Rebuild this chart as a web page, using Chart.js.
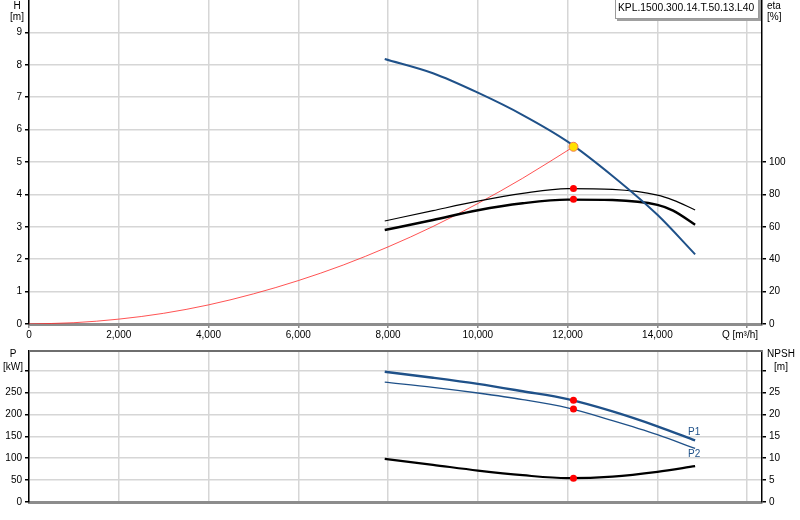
<!DOCTYPE html>
<html>
<head>
<meta charset="utf-8">
<script src="https://cdn.jsdelivr.net/npm/chart.js@4"></script>
<style>
  html, body { margin: 0; padding: 0; background: #fff; }
  #wrap { position: relative; width: 800px; height: 520px; }
  canvas { position: absolute; left: 0; }
  #top { top: 0; }
  #bottom { top: 345px; }
</style>
</head>
<body>
<div id="wrap">
  <canvas id="top" width="800" height="345"></canvas>
  <canvas id="bottom" width="800" height="175"></canvas>
</div>
<script>
// values
const qTicks = [0, 2000, 4000, 6000, 8000, 10000, 12000, 14000, 16000];
const hTicks = [0, 1, 2, 3, 4, 5, 6, 7, 8, 9];
const etaTicks = [0, 20, 40, 60, 80, 100];
const pTicks = [0, 50, 100, 150, 200, 250, 300];
const npshTicks = [0, 5, 10, 15, 20, 25, 30];

const qHead = [7925, 9000, 10000, 11000, 12000, 13000, 14000, 14840];
const head = [8.18, 7.74, 7.14, 6.45, 5.63, 4.57, 3.37, 2.15];

const qSys = [0, 1000, 2000, 3000, 4000, 5000, 6000, 7000, 8000, 9000, 10000, 11000, 12130];
const sysHead = [0, 0.04, 0.15, 0.33, 0.59, 0.93, 1.34, 1.82, 2.38, 3.01, 3.72, 4.5, 5.47];

const qEta = [7925, 9000, 10000, 11000, 12000, 13000, 14000, 14350, 14840];
const etaThin = [63.6, 70, 75.8, 80.6, 83.6, 83.1, 79.6, 76.5, 70.4];
const etaThick = [58, 64.2, 70.2, 74.5, 76.8, 76.5, 73.5, 70, 61.3];

const qLow = [7925, 9000, 10000, 11000, 12000, 13000, 14000, 14840];
const p1 = [297.5, 284, 270, 253, 235, 207, 173, 140.6];
const p2 = [273.7, 262, 249, 234, 215, 186, 154, 122.3];
const npsh = [9.86, 8.49, 7.18, 6.12, 5.45, 5.8, 6.88, 8.19];

const qDuty = 12130;
const hDuty = 5.47;
const etaDuty = [83.7, 77];
const pDuty = [232.3, 212.6];
const npshDuty = 5.43;

const title = 'KPL.1500.300.14.T.50.13.L40';

const BLUE = '#1f5189';
const GRID = '#d6d6d6';
const FONT = { family: 'Liberation Sans, Arial, sans-serif', size: 10 };

const pts = (xs, ys) => xs.map((x, i) => ({ x: x, y: ys[i] }));

function xScale(showLabels) {
  return {
    type: 'linear', min: 0, max: 16330,
    afterBuildTicks: s => { s.ticks = qTicks.map(v => ({ value: v })); },
    ticks: {
      display: showLabels, autoSkip: false, maxRotation: 0, padding: 1,
      color: '#000', font: FONT,
      callback: v => v === 16000 ? '' : v.toLocaleString('en-US')
    },
    grid: { color: GRID, lineWidth: 1.5, drawTicks: showLabels, tickColor: '#888', tickLength: 4 },
    border: { color: '#8c8c8c', width: 3 },
    afterFit: s => { s.height = showLabels ? 21 : 18; s.paddingLeft = 0; s.paddingRight = 0; }
  };
}

function yScale(pos, min, max, tickList, hideVal, onChart, width) {
  return {
    type: 'linear', position: pos, min: min, max: max,
    afterBuildTicks: s => { s.ticks = tickList.map(v => ({ value: v })); },
    ticks: {
      autoSkip: false, padding: 3, color: '#000', font: FONT,
      callback: v => v === hideVal ? '' : v
    },
    grid: { color: GRID, lineWidth: 1.5, drawOnChartArea: onChart, tickColor: '#000', tickLength: 4 },
    border: { color: '#000', width: 1.5 },
    afterFit: s => { s.width = width; s.paddingTop = 0; s.paddingBottom = 0; }
  };
}

function text(ctx, str, x, y, align, color, size) {
  ctx.save();
  ctx.font = (size || 10) + 'px Liberation Sans, Arial, sans-serif';
  ctx.fillStyle = color || '#000';
  ctx.textAlign = align;
  ctx.textBaseline = 'middle';
  ctx.fillText(str, x, y);
  ctx.restore();
}

const topLabels = {
  id: 'topLabels',
  afterDraw(chart) {
    const ctx = chart.ctx;
    text(ctx, 'H', 17, 6, 'center');
    text(ctx, '[m]', 17, 17, 'center');
    text(ctx, 'eta', 767, 6, 'left');
    text(ctx, '[%]', 767, 17, 'left');
    text(ctx, 'Q [m\u00b3/h]', 758, 335, 'right');
    // model box
    ctx.save();
    ctx.fillStyle = '#a0a0a0';
    ctx.fillRect(617, 0, 144, 21);
    ctx.fillStyle = '#fff';
    ctx.fillRect(615, -1, 144, 20);
    ctx.strokeStyle = '#9a9a9a';
    ctx.lineWidth = 1;
    ctx.strokeRect(615.5, -1, 143, 19.5);
    ctx.restore();
    text(ctx, title, 618, 8, 'left', '#000', 10.3);
  }
};

const bottomLabels = {
  id: 'bottomLabels',
  afterDraw(chart) {
    const ctx = chart.ctx;
    const a = chart.chartArea;
    ctx.save();
    ctx.strokeStyle = '#6e6e6e';
    ctx.lineWidth = 2;
    ctx.beginPath();
    ctx.moveTo(a.left, a.top);
    ctx.lineTo(a.right, a.top);
    ctx.stroke();
    ctx.restore();
    text(ctx, 'P', 13, 9, 'center');
    text(ctx, '[kW]', 13, 22, 'center');
    text(ctx, 'NPSH', 781, 9, 'center');
    text(ctx, '[m]', 781, 22, 'center');
    const xs = chart.scales.x, yp = chart.scales.y;
    const last = qLow.length - 1;
    text(ctx, 'P1', xs.getPixelForValue(qLow[last]) - 1, yp.getPixelForValue(p1[last]) - 8, 'center', BLUE);
    text(ctx, 'P2', xs.getPixelForValue(qLow[last]) - 1, yp.getPixelForValue(p2[last]) + 6, 'center', BLUE);
  }
};

const common = {
  responsive: false,
  animation: false,
  events: [],
  layout: { padding: 0, autoPadding: false },
  plugins: { legend: { display: false }, tooltip: { enabled: false } },
  elements: { point: { radius: 0 }, line: { cubicInterpolationMode: 'monotone' } }
};

new Chart(document.getElementById('top'), {
  type: 'line',
  data: {
    datasets: [
      { data: [{ x: qDuty, y: hDuty }], yAxisID: 'y', showLine: false,
        pointRadius: 4.5, pointBackgroundColor: '#ffe100', pointBorderColor: '#f07a50', pointBorderWidth: 1 },
      { data: etaDuty.map(v => ({ x: qDuty, y: v })), yAxisID: 'yEta', showLine: false,
        pointRadius: 3.5, pointBackgroundColor: '#ff0000', pointBorderColor: '#ff0000', pointBorderWidth: 0 },
      { data: pts(qHead, head), yAxisID: 'y', borderColor: BLUE, borderWidth: 2, fill: false },
      { data: pts(qEta, etaThin), yAxisID: 'yEta', borderColor: '#000', borderWidth: 1.2, fill: false },
      { data: pts(qEta, etaThick), yAxisID: 'yEta', borderColor: '#000', borderWidth: 2.4, fill: false },
      { data: pts(qSys, sysHead), yAxisID: 'y', borderColor: 'rgba(255,40,40,0.8)', borderWidth: 1, fill: false }
    ]
  },
  options: Object.assign({}, common, {
    scales: {
      x: xScale(true),
      y: yScale('left', 0, 10, hTicks, null, true, 29),
      yEta: yScale('right', 0, 200, etaTicks, null, false, 38)
    }
  }),
  plugins: [topLabels]
});

new Chart(document.getElementById('bottom'), {
  type: 'line',
  data: {
    datasets: [
      { data: pDuty.map(v => ({ x: qDuty, y: v })), yAxisID: 'y', showLine: false,
        pointRadius: 3.5, pointBackgroundColor: '#ff0000', pointBorderWidth: 0 },
      { data: [{ x: qDuty, y: npshDuty }], yAxisID: 'yN', showLine: false,
        pointRadius: 3.5, pointBackgroundColor: '#ff0000', pointBorderWidth: 0 },
      { data: pts(qLow, p1), yAxisID: 'y', borderColor: BLUE, borderWidth: 2.4, fill: false },
      { data: pts(qLow, p2), yAxisID: 'y', borderColor: BLUE, borderWidth: 1.3, fill: false },
      { data: pts(qLow, npsh), yAxisID: 'yN', borderColor: '#000', borderWidth: 2.2, fill: false }
    ]
  },
  options: Object.assign({}, common, {
    layout: { padding: { top: 6 }, autoPadding: false },
    scales: {
      x: xScale(false),
      y: yScale('left', 0, 345, pTicks, 300, true, 29),
      yN: yScale('right', 0, 34.5, npshTicks, 30, false, 38)
    }
  }),
  plugins: [bottomLabels]
});
</script>
</body>
</html>
